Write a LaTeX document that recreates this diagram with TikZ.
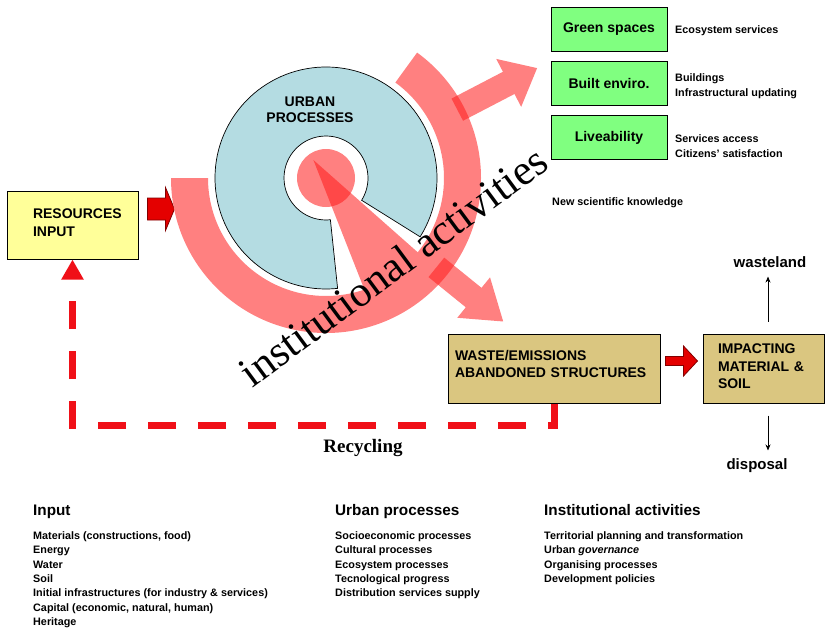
\documentclass[tikz,border=0pt]{standalone}
\usepackage{fontspec}
\setmainfont{Liberation Sans}
\newfontfamily\seriffam{Liberation Serif}
\usetikzlibrary{arrows.meta,calc}
\definecolor{pinkr}{RGB}{255,128,128}
\definecolor{pinkd}{RGB}{255,72,72}
\definecolor{bluer}{RGB}{180,220,226}
\definecolor{greenb}{RGB}{128,255,128}
\definecolor{yellowb}{RGB}{255,255,153}
\definecolor{tanb}{RGB}{218,198,128}
\definecolor{dashred}{RGB}{240,16,24}
\definecolor{arrred}{RGB}{228,0,0}
\definecolor{arrdark}{RGB}{130,0,0}
\begin{document}
\begin{tikzpicture}[x=1pt,y=1pt,
  box/.style={draw=black, line width=1pt, inner ysep=0pt, font=\fontsize{14}{17}\selectfont\bfseries},
  gbox/.style={box, fill=greenb, minimum width=116pt, minimum height=44pt, align=center},
  small/.style={inner sep=0pt, font=\fontsize{10.8}{15}\selectfont\bfseries},
  listtxt/.style={inner sep=0pt, align=left, font=\fontsize{10.8}{14.3}\selectfont\bfseries},
  head/.style={inner sep=0pt, font=\fontsize{15.3}{18}\selectfont\bfseries},
  blockarr/.style={fill=arrred, draw=arrdark, line width=0.8pt},
  thinarr/.style={line width=0.8pt, -{Stealth[length=6pt,width=5pt]}},
  dashline/.style={dashred, line width=7pt, dash pattern=on 28pt off 22pt, -{Triangle[length=20pt,width=21pt]}}
]
\useasboundingbox (0,0) rectangle (825,-629);
\fill[white] (0,0) rectangle (825,-629);
\coordinate (C) at (326,-178);

% boxes
\node[box, fill=yellowb, minimum width=131pt, minimum height=68pt, inner xsep=26pt, text width=79pt, align=left] (res) at (72.5,-225) {RESOURCES\\[1pt]INPUT\rule[-4pt]{0pt}{4pt}};
\node[box, fill=tanb, minimum width=212pt, minimum height=69pt, inner xsep=7pt, text width=198pt, align=left] (waste) at (554,-368.5) {WASTE/EMISSIONS\\ABANDONED STRUCTURES\rule[-10pt]{0pt}{10pt}};
\node[box, fill=tanb, minimum width=121pt, minimum height=69pt, inner xsep=15pt, text width=91pt, align=left] (imp) at (763.5,-368.5) {IMPACTING\\[1pt]MATERIAL \&\\SOIL\rule[-4pt]{0pt}{4pt}};

% block arrows
\coordinate (ra) at ($(res.east)+(9,16)$);
\filldraw[blockarr] (ra) -- ++(0,11) -- ++(18,0) -- ++(0,10.5) -- ++(9,-21.5) -- ++(-9,-21.5) -- ++(0,10.5) -- ++(-18,0) -- cycle;
\coordinate (wa) at ($(waste.east)+(5,7.5)$);
\filldraw[blockarr] (wa) -- ++(0,4.5) -- ++(18,0) -- ++(0,10.5) -- ++(14,-15) -- ++(-14,-15) -- ++(0,10.5) -- ++(-18,0) -- cycle;

% red arc
\fill[pinkr] ($(C)+(180:155)$) arc[start angle=180,end angle=414,radius=155pt] -- ($(C)+(414:118)$) arc[start angle=414,end angle=180,radius=118pt] -- cycle;
% wedge
\coordinate (A) at ($(C)+(125:22)$);
\fill[pinkr] (A) -- ($(A)+(-68.5:160)$) -- ($(A)+(-41.5:160)$) -- cycle;
% central circle
\fill[pinkr] (C) circle[radius=29pt];
\begin{scope}
  \clip (C) circle[radius=29pt];
  \fill[pinkd] (A) -- ($(A)+(-68.5:160)$) -- ($(A)+(-41.5:160)$) -- cycle;
\end{scope}
% outgoing arrows
\begin{scope}[shift={(C)},rotate=27.5]
  \fill[pinkr] (148,-12.5) -- (206,-12.5) -- (206,-27) -- (238,0) -- (206,27) -- (206,12.5) -- (148,12.5) -- cycle;
\end{scope}
\begin{scope}[shift={(C)},rotate=-39]
  \fill[pinkr] (142,-12.5) -- (190,-12.5) -- (190,-26) -- (228,0) -- (190,26) -- (190,12.5) -- (142,12.5) -- cycle;
\end{scope}
\begin{scope}
  \clip (C) circle[radius=155pt];
  \begin{scope}[shift={(C)},rotate=27.5]
    \fill[pinkd] (148,-12.5) rectangle (170,12.5);
  \end{scope}
  \begin{scope}[shift={(C)},rotate=-39]
    \fill[pinkd] (142,-12.5) rectangle (170,12.5);
  \end{scope}
\end{scope}

% blue ring
\draw[fill=bluer, line width=0.7pt] ($(C)+(-32:111)$) arc[start angle=-32,end angle=276,radius=111pt] -- ($(C)+(276:42)$) arc[start angle=276,end angle=-32,radius=42pt] -- cycle;
\node[inner sep=0pt, align=center, font=\fontsize{14}{16}\selectfont\bfseries] (up) at (310,-110) {URBAN\\PROCESSES};

% big text
\node[rotate=36.5, inner sep=0pt, font=\seriffam\fontsize{43}{43}\selectfont] (inst) at (393,-266) {institutional activities};

% green boxes
\node[gbox] (g1) at (609,-29) {Green spaces};
\node[gbox] (g2) at (609,-83.5) {Built enviro.};
\node[gbox] (g3) at (609,-137.5) {Liveability};
\node[small, anchor=west] (t1) at (675,-31) {Ecosystem services};
\node[small, anchor=west, align=left] (t2) at (675,-86.5) {Buildings\\Infrastructural updating};
\node[small, anchor=west, align=left] (t3) at (675,-146.5) {Services access\\Citizens' satisfaction};
\node[small, anchor=west] (t4) at (552,-203) {New scientific knowledge};

% dashed recycling line
\draw[dashline] (waste.south) -- ++(0,-22) -| (res.south);
\node[font=\seriffam\bfseries\fontsize{19}{19}\selectfont] (rec) at (363,-448) {Recycling};

% wasteland / disposal
\node[font=\fontsize{15}{15}\selectfont\bfseries] (wl) at (770,-262) {wasteland};
\node[font=\fontsize{15}{15}\selectfont\bfseries] (dp) at (757,-466) {disposal};
\coordinate (w0) at ($(imp.north)+(4.5,12)$);
\coordinate (d0) at ($(imp.south)+(4.5,-12)$);
\draw[thinarr, shorten >=5.5pt] (w0) -- (w0 |- wl.south);
\draw[thinarr, shorten >=5pt] (d0) -- (d0 |- dp.north);

% legends
\node[head, anchor=base west] (h1) at (33,-515.5) {Input};
\node[head, anchor=base west] (h2) at (335,-515.5) {Urban processes};
\node[head, anchor=base west] (h3) at (544,-515.5) {Institutional activities};
\node[listtxt, anchor=north west] (l1) at (33,-531.5) {Materials (constructions, food)\\Energy\\Water\\Soil\\Initial infrastructures (for industry \& services)\\Capital (economic, natural, human)\\Heritage};
\node[listtxt, anchor=north west] (l2) at (335,-531.5) {Socioeconomic processes\\Cultural processes\\Ecosystem processes\\Tecnological progress\\Distribution services supply};
\node[listtxt, anchor=north west] (l3) at (544,-531.5) {Territorial planning and transformation\\Urban \textit{governance}\\Organising processes\\Development policies};
\end{tikzpicture}
\end{document}
